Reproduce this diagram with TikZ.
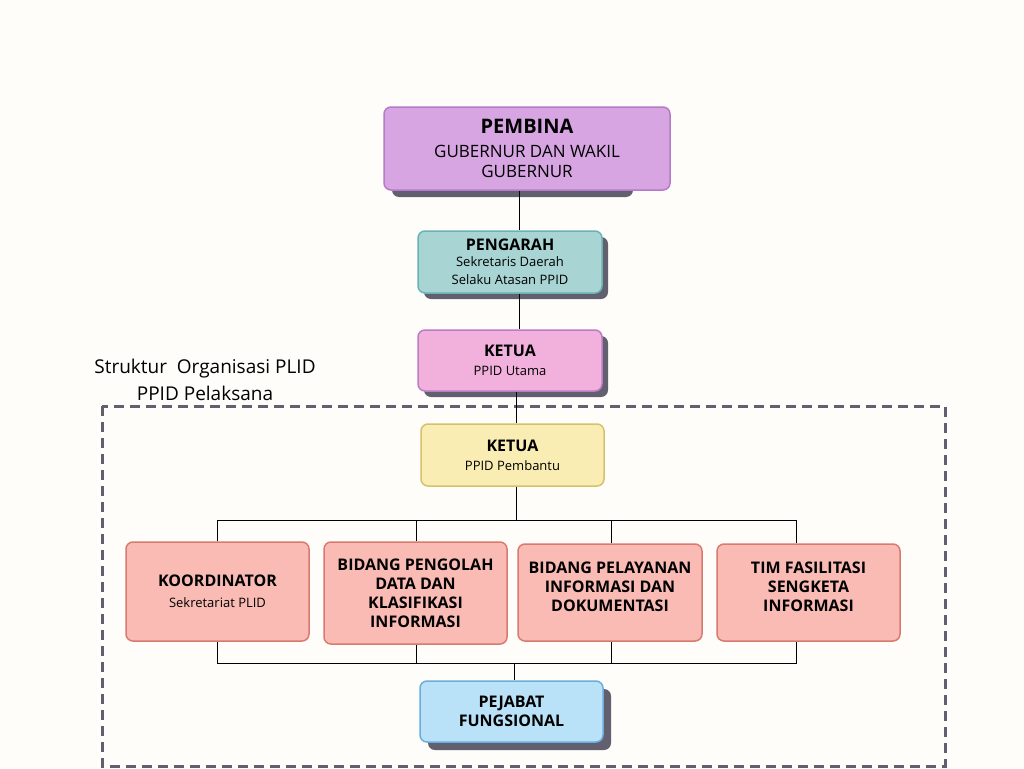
\documentclass[tikz,border=0pt]{standalone}
\usepackage{fontspec}
\setmainfont{Open Sans}
\usetikzlibrary{shadows}

\definecolor{bgcream}{HTML}{FEFDF9}
\definecolor{shadowgray}{HTML}{62606E}
\definecolor{pembinafill}{HTML}{D6A5E2}
\definecolor{pembinaline}{HTML}{B57AC8}
\definecolor{pengarahfill}{HTML}{A9D4D4}
\definecolor{pengarahline}{HTML}{6BB2B4}
\definecolor{ketuafill}{HTML}{F2B0DC}
\definecolor{ketualine}{HTML}{B97CC5}
\definecolor{pembantufill}{HTML}{F9EDB3}
\definecolor{pembantuline}{HTML}{D4C26A}
\definecolor{bidangfill}{HTML}{F9BBB4}
\definecolor{bidangline}{HTML}{D97A70}
\definecolor{pejabatfill}{HTML}{B9E1F8}
\definecolor{pejabatline}{HTML}{6AAEDB}

\tikzset{
  box/.style={draw, rounded corners=7pt, line width=1.5pt, align=center,
    inner sep=0pt, text=black},
  shade/.style={general shadow={fill=shadowgray, shadow xshift=6pt,
    shadow yshift=-6pt, opacity=1}},
  head/.style={font=\fontsize{16}{19}\selectfont\bfseries},
  link/.style={line width=0.9pt, black},
}
\newcommand{\subtxt}{\fontsize{13}{17}\selectfont\mdseries}

\begin{document}
\begin{tikzpicture}[x=1pt, y=-1pt]
      \fill[bgcream] (0,0) rectangle (1024,768);
      \useasboundingbox (0,0) rectangle (1024,768);
      %
      % outer dashed frame
      \draw[shadowgray, line width=3pt, dash pattern=on 10pt off 6pt]
        (102,406) rectangle (945,766);
      \node[font=\fontsize{19}{27}\selectfont, align=center] (judul) at (205,380)
        {Struktur\ \ Organisasi PLID\\PPID Pelaksana};
      %
      % top of the chart
      \fill[shadowgray, rounded corners=7pt] (392,115) rectangle (633,197);
      \node[box, fill=pembinafill, draw=pembinaline, minimum width=286pt,
        minimum height=83pt, font=\fontsize{17}{20}\selectfont] (pembina) at (527,148.5)
        {{\fontsize{20}{24}\selectfont\bfseries PEMBINA}\\[4pt]
         GUBERNUR DAN WAKIL\\GUBERNUR};
      \node[box, shade, fill=pengarahfill, draw=pengarahline, minimum width=184pt,
        minimum height=62pt, head] (pengarah) at (510,262)
        {PENGARAH\\[-3pt]{\subtxt Sekretaris Daerah}\\[-1pt]{\subtxt Selaku Atasan PPID}};
      \node[box, shade, fill=ketuafill, draw=ketualine, minimum width=184pt,
        minimum height=61pt, head] (ketua) at (510,360.5)
        {KETUA\\{\subtxt PPID Utama}};
      \node[box, fill=pembantufill, draw=pembantuline, minimum width=183pt,
        minimum height=62pt, head] (pembantu) at (512.5,455)
        {KETUA\\{\subtxt PPID Pembantu}};
      %
      % bidang row
      \node[box, fill=bidangfill, draw=bidangline, minimum width=183pt,
        minimum height=99pt, head] (koordinator) at (217.5,591.5)
        {KOORDINATOR\\[2pt]{\subtxt Sekretariat PLID}};
      \node[box, fill=bidangfill, draw=bidangline, minimum width=183pt,
        minimum height=102pt, head] (pengolah) at (415.5,593)
        {BIDANG PENGOLAH\\DATA DAN\\KLASIFIKASI\\INFORMASI};
      \node[box, fill=bidangfill, draw=bidangline, minimum width=184pt,
        minimum height=97pt, head] (pelayanan) at (610,592.5)
        {BIDANG PELAYANAN\\INFORMASI DAN\\DOKUMENTASI\\[-8pt]};
      \node[box, fill=bidangfill, draw=bidangline, minimum width=183pt,
        minimum height=97pt, head] (fasilitasi) at (808.5,592.5)
        {TIM FASILITASI\\SENGKETA\\INFORMASI\\[-8pt]};
      %
      \node[box, general shadow={fill=shadowgray, shadow xshift=8pt,
        shadow yshift=-8pt, opacity=1}, fill=pejabatfill, draw=pejabatline,
        minimum width=183pt, minimum height=61pt, head] (pejabat) at (511.5,711.5)
        {PEJABAT\\FUNGSIONAL};
      %
      % connectors
      \coordinate (busatas) at (0,520);
      \coordinate (busbawah) at (0,663);
      \draw[link] ([xshift=-8pt]pembina.south) -- ([xshift=9pt]pengarah.north);
      \draw[link] ([xshift=9pt]pengarah.south) -- ([xshift=9pt]ketua.north);
      \draw[link] ([xshift=6pt]ketua.south) -- ([xshift=3.5pt]pembantu.north);
      \draw[link] ([xshift=3.5pt]pembantu.south) -- ([xshift=3.5pt]pembantu.south |- busatas);
      \draw[link] (koordinator.north) -- (koordinator.north |- busatas)
        -- ([xshift=-12.5pt]fasilitasi.north |- busatas) -- ([xshift=-12.5pt]fasilitasi.north);
      \draw[link] ([xshift=0.5pt]pengolah.north) -- ([xshift=0.5pt]pengolah.north |- busatas);
      \draw[link] ([xshift=1pt]pelayanan.north) -- ([xshift=1pt]pelayanan.north |- busatas);
      %
      \draw[link] (koordinator.south) -- (koordinator.south |- busbawah)
        -- ([xshift=-12.5pt]fasilitasi.south |- busbawah) -- ([xshift=-12.5pt]fasilitasi.south);
      \draw[link] ([xshift=0.5pt]pengolah.south) -- ([xshift=0.5pt]pengolah.south |- busbawah);
      \draw[link] ([xshift=1pt]pelayanan.south) -- ([xshift=1pt]pelayanan.south |- busbawah);
      \draw[link] ([xshift=2.5pt]pejabat.north |- busbawah) -- ([xshift=2.5pt]pejabat.north);
      %
    \end{tikzpicture}
\end{document}
